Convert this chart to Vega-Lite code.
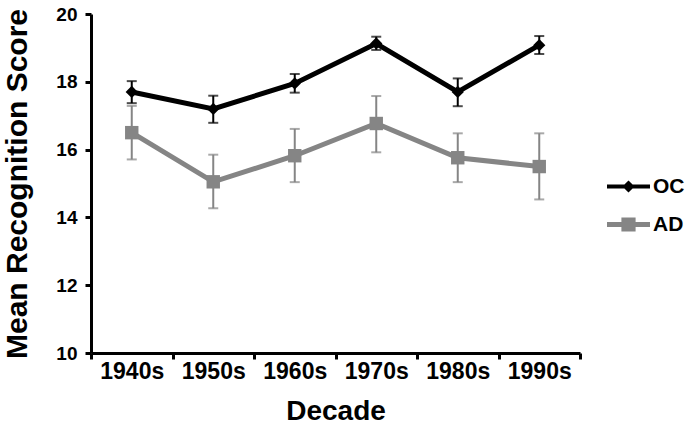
{
  "$schema": "https://vega.github.io/schema/vega-lite/v6.json",
  "width": 489,
  "height": 339,
  "autosize": {"type": "none"},
  "padding": {"left": 91, "top": 14, "right": 110, "bottom": 74},
  "background": "white",
  "config": {
    "font": "Liberation Sans",
    "view": {"stroke": null},
    "axis": {
      "domainColor": "#000",
      "domainWidth": 3,
      "tickColor": "#000",
      "tickWidth": 3,
      "tickSize": 6,
      "grid": false,
      "labelFont": "Liberation Sans",
      "labelFontWeight": "bold",
      "labelColor": "#000",
      "titleFont": "Liberation Sans",
      "titleFontWeight": "bold",
      "titleColor": "#000"
    }
  },
  "data": {
    "values": [
      {"decade": "1940s", "group": "AD", "mean": 16.5, "lo": 15.71, "hi": 17.29},
      {"decade": "1950s", "group": "AD", "mean": 15.05, "lo": 14.27, "hi": 15.85},
      {"decade": "1960s", "group": "AD", "mean": 15.82, "lo": 15.04, "hi": 16.61},
      {"decade": "1970s", "group": "AD", "mean": 16.77, "lo": 15.92, "hi": 17.58},
      {"decade": "1980s", "group": "AD", "mean": 15.76, "lo": 15.04, "hi": 16.48},
      {"decade": "1990s", "group": "AD", "mean": 15.5, "lo": 14.53, "hi": 16.48},
      {"decade": "1940s", "group": "OC", "mean": 17.7, "lo": 17.37, "hi": 18.02},
      {"decade": "1950s", "group": "OC", "mean": 17.2, "lo": 16.79, "hi": 17.59},
      {"decade": "1960s", "group": "OC", "mean": 17.95, "lo": 17.68, "hi": 18.23},
      {"decade": "1970s", "group": "OC", "mean": 19.13, "lo": 18.94, "hi": 19.33},
      {"decade": "1980s", "group": "OC", "mean": 17.7, "lo": 17.28, "hi": 18.1},
      {"decade": "1990s", "group": "OC", "mean": 19.08, "lo": 18.82, "hi": 19.35}
    ]
  },
  "encoding": {
    "x": {
      "field": "decade",
      "type": "nominal",
      "scale": {"paddingInner": 0, "paddingOuter": 0},
      "axis": {
        "title": "Decade",
        "labelAngle": 0,
        "labelFontSize": 23,
        "labelPadding": 1,
        "tickBand": "extent",
        "titleFontSize": 28,
        "titlePadding": 14
      }
    }
  },
  "layer": [
    {
      "mark": {"type": "errorbar", "ticks": {"size": 10, "thickness": 2}, "thickness": 2},
      "encoding": {
        "y": {"field": "lo", "type": "quantitative", "scale": {"domain": [10, 20]}, "title": "Mean Recognition Score"},
        "y2": {"field": "hi"},
        "color": {"field": "group", "type": "nominal", "scale": {"domain": ["OC", "AD"], "range": ["#000000", "#858585"]}}
      }
    },
    {
      "mark": {"type": "line", "strokeWidth": 5},
      "encoding": {
        "y": {
          "field": "mean",
          "type": "quantitative",
          "scale": {"domain": [10, 20], "nice": false, "zero": false},
          "title": "Mean Recognition Score",
          "axis": {
            "values": [10, 12, 14, 16, 18, 20],
            "labelFontSize": 19,
            "labelPadding": 8,
            "titleFontSize": 30,
            "titlePadding": 23
          }
        },
        "color": {
          "field": "group",
          "type": "nominal",
          "scale": {"domain": ["OC", "AD"], "range": ["#000000", "#858585"]},
          "legend": {
            "title": null,
            "orient": "none",
            "legendX": 516,
            "legendY": 151,
            "padding": 0,
            "symbolSize": 1849,
            "rowPadding": 6,
            "labelOffset": 3,
            "labelFontSize": 21,
            "labelFontWeight": "bold",
            "labelColor": "#000",
            "labelFont": "Liberation Sans",
            "encode": {
              "symbols": {
                "update": {
                  "shape": {"signal": "datum.value === 'OC' ? 'M-1,-0.093H-0.19L0,-0.28L0.19,-0.093H1V0.093H0.19L0,0.28L-0.19,0.093H-1Z' : 'M-1,-0.116H-0.33V-0.33H0.33V-0.116H1V0.116H0.33V0.33H-0.33V0.116H-1Z'"},
                  "fill": {"signal": "datum.value === 'OC' ? '#000000' : '#858585'"},
                  "fillOpacity": {"value": 1},
                  "strokeWidth": {"value": 0}
                }
              }
            }
          }
        }
      }
    },
    {
      "mark": {"type": "point", "filled": true, "opacity": 1},
      "encoding": {
        "y": {"field": "mean", "type": "quantitative"},
        "color": {"field": "group", "type": "nominal", "scale": {"domain": ["OC", "AD"], "range": ["#000000", "#858585"]}},
        "shape": {"condition": {"test": "datum.group === 'OC'", "value": "diamond"}, "value": "square"},
        "size": {"condition": {"test": "datum.group === 'OC'", "value": 150}, "value": 180}
      }
    }
  ]
}
